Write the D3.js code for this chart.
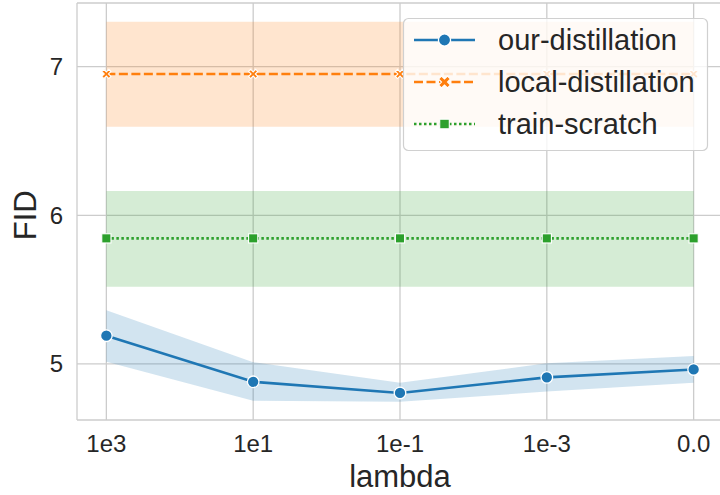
<!DOCTYPE html>
<html><head><meta charset="utf-8">
<script src="https://cdn.jsdelivr.net/npm/d3@7"></script>
<style>body{margin:0;background:#fff;} svg{display:block;font-family:"Liberation Sans",Arial,sans-serif;}</style>
</head><body><svg id="c" width="720" height="495"></svg>
<script>
const categories = ["1e3", "1e1", "1e-1", "1e-3", "0.0"];
const ourMean   = [5.19, 4.88, 4.805, 4.91, 4.963];
const ourLow    = [5.015, 4.752, 4.746, 4.814, 4.874];
const ourHigh   = [5.362, 5.012, 4.874, 5.004, 5.054];
const localMean = [6.951, 6.951, 6.951, 6.951, 6.951];
const localLow  = [6.596, 6.596, 6.596, 6.596, 6.596];
const localHigh = [7.302, 7.302, 7.302, 7.302, 7.302];
const scratchMean = [5.845, 5.845, 5.845, 5.845, 5.845];
const scratchLow  = [5.52, 5.52, 5.52, 5.52, 5.52];
const scratchHigh = [6.164, 6.164, 6.164, 6.164, 6.164];
const yTicks = [5, 6, 7];
const seriesNames = ["our-distillation", "local-distillation", "train-scratch"];

const svg = d3.select("#c");
const L = 77, R = 723, T = 3, B = 420;
const x = d3.scalePoint().domain(categories).range([L, R]).padding(0.2);
const y = d3.scaleLinear().domain([4.623, 7.4285]).range([B, T]);
const grid = "#cccccc", txt = "#262626";

// grid
const gg = svg.append("g");
gg.selectAll(".gx").data(categories).enter().append("line")
  .attr("x1", d => x(d)).attr("x2", d => x(d)).attr("y1", T).attr("y2", B)
  .attr("stroke", grid).attr("stroke-width", 1.3);
gg.selectAll(".gy").data(yTicks).enter().append("line")
  .attr("x1", L).attr("x2", R).attr("y1", d => y(d)).attr("y2", d => y(d))
  .attr("stroke", grid).attr("stroke-width", 1.3);

const series = [
  {name: seriesNames[0], mean: ourMean, lo: ourLow, hi: ourHigh, color: "#1f77b4", dash: null, marker: "circle"},
  {name: seriesNames[1], mean: localMean, lo: localLow, hi: localHigh, color: "#ff7f0e", dash: "9,3.5", marker: "x"},
  {name: seriesNames[2], mean: scratchMean, lo: scratchLow, hi: scratchHigh, color: "#2ca02c", dash: "2.5,2.5", marker: "square"}
];

const area = d3.area().x((d, i) => x(categories[i])).y0(d => y(d[0])).y1(d => y(d[1]));
const line = d3.line().x((d, i) => x(categories[i])).y(d => y(d));

function marker(g, type, cx, cy, color, a, w) {
  if (type === "circle") {
    g.append("circle").attr("cx", cx).attr("cy", cy).attr("r", a)
      .attr("fill", color).attr("stroke", "#fff").attr("stroke-width", 1.3);
  } else if (type === "square") {
    g.append("rect").attr("x", cx - a).attr("y", cy - a).attr("width", 2 * a).attr("height", 2 * a)
      .attr("fill", color).attr("stroke", "#fff").attr("stroke-width", 1.1);
  } else {
    const pts = [[-a + w, -a], [0, -w], [a - w, -a], [a, -a + w], [w, 0], [a, a - w], [a - w, a], [0, w], [-a + w, a], [-a, a - w], [-w, 0], [-a, -a + w]];
    g.append("path").attr("d", "M" + pts.map(q => (cx + q[0]) + "," + (cy + q[1])).join("L") + "Z")
      .attr("fill", color).attr("stroke", "#fff").attr("stroke-width", 1.1);
  }
}
const mSize = {circle: [5.8, 0], square: [4.6, 0], x: [4.6, 2.1]};
const lSize = {circle: [6.1, 0], square: [4.8, 0], x: [6, 3]};

series.forEach(s => {
  const band = s.lo.map((v, i) => [v, s.hi[i]]);
  svg.append("path").datum(band).attr("d", area).attr("fill", s.color).attr("fill-opacity", 0.2);
});
series.forEach(s => {
  const g = svg.append("g");
  g.append("path").datum(s.mean).attr("d", line).attr("fill", "none")
    .attr("stroke", s.color).attr("stroke-width", 2.6)
    .attr("stroke-dasharray", s.dash);
  s.mean.forEach((v, i) => marker(g, s.marker, x(categories[i]), y(v), s.color, mSize[s.marker][0], mSize[s.marker][1]));
});

// spines
svg.append("line").attr("x1", L).attr("x2", L).attr("y1", T).attr("y2", B).attr("stroke", grid).attr("stroke-width", 1.3);
svg.append("line").attr("x1", L).attr("x2", R).attr("y1", B).attr("y2", B).attr("stroke", grid).attr("stroke-width", 1.3);
svg.append("line").attr("x1", L).attr("x2", R).attr("y1", T).attr("y2", T).attr("stroke", grid).attr("stroke-width", 1.3);

// tick labels
svg.selectAll(".yt").data(yTicks).enter().append("text")
  .attr("x", 63).attr("y", d => y(d)).attr("dy", "0.35em").attr("text-anchor", "end")
  .attr("font-size", 24).attr("fill", txt).text(d => d);
svg.selectAll(".xt").data(categories).enter().append("text")
  .attr("x", d => x(d)).attr("y", 452).attr("text-anchor", "middle")
  .attr("font-size", 24).attr("fill", txt).text(d => d);

// axis labels
svg.append("text").attr("x", 400).attr("y", 487).attr("text-anchor", "middle")
  .attr("font-size", 31).attr("fill", txt).text("lambda");
svg.append("text").attr("transform", "translate(36," + y(6) + ") rotate(-90)")
  .attr("text-anchor", "middle").attr("font-size", 31).attr("fill", txt).text("FID");

// legend
const lg = svg.append("g");
lg.append("rect").attr("x", 403.5).attr("y", 18.5).attr("width", 304).attr("height", 132).attr("rx", 5)
  .attr("fill", "#fff").attr("fill-opacity", 0.8).attr("stroke", "#d0d0d0").attr("stroke-width", 1.2);
series.forEach((s, i) => {
  const cy = 40 + i * 42;
  lg.append("line").attr("x1", 414).attr("x2", 475).attr("y1", cy).attr("y2", cy)
    .attr("stroke", s.color).attr("stroke-width", 2.6).attr("stroke-dasharray", s.dash);
  marker(lg, s.marker, 444.5, cy, s.color, lSize[s.marker][0], lSize[s.marker][1]);
  lg.append("text").attr("x", 498).attr("y", cy).attr("dy", "0.35em")
    .attr("font-size", 29).attr("fill", txt).text(s.name);
});
</script></body></html>
